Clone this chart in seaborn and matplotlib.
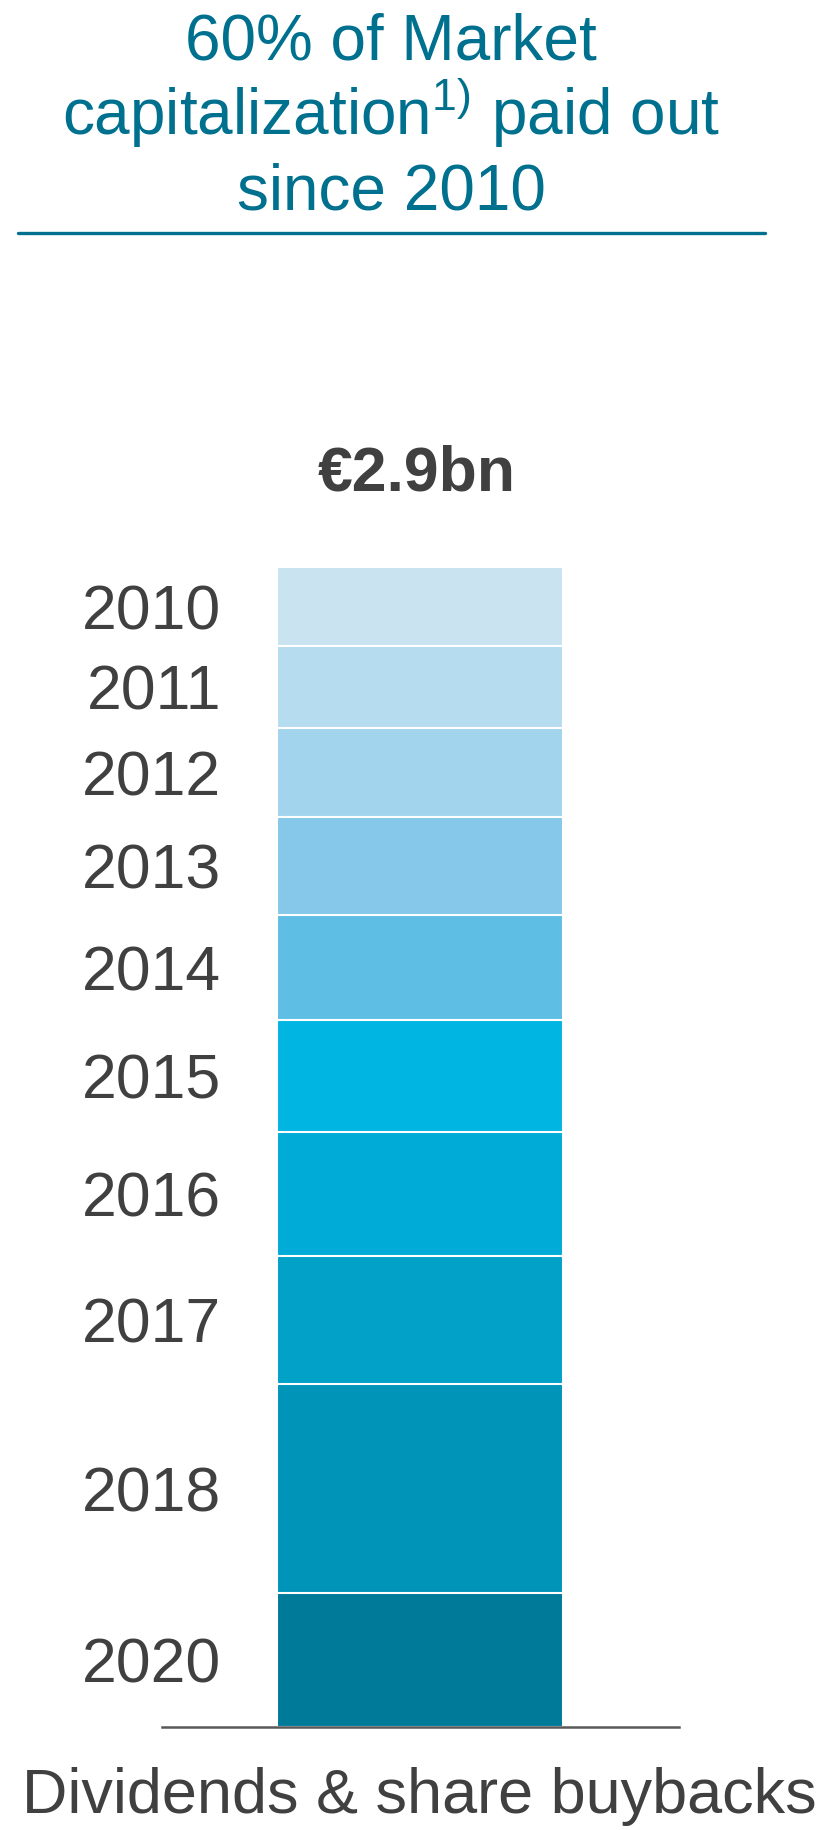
import matplotlib
matplotlib.use("Agg")
import matplotlib.pyplot as plt
import seaborn as sns
import numpy as np
import pandas as pd

# ---------------- data ----------------
years = ["2010", "2011", "2012", "2013", "2014", "2015", "2016", "2017", "2018", "2020"]
payouts_eur_m = [198, 204, 223, 245, 262, 281, 309, 322, 521, 335]
seg_colors = ["#C9E3F1", "#B6DCEF", "#A3D4EE", "#86C8E9", "#5EBEE4",
              "#00B5E2", "#00ACD7", "#02A1C8", "#0094B9", "#007A99"]
category = "Dividends & share buybacks"
total_label = "€2.9bn"
title_lines = ["60% of Market", "capitalization$^{1)}$ paid out", "since 2010"]

# ---------------- style ----------------
sns.set_style("white")
plt.rcParams["font.family"] = ["Liberation Sans", "DejaVu Sans"]
plt.rcParams["mathtext.fontset"] = "custom"
plt.rcParams["mathtext.rm"] = "Liberation Sans"
plt.rcParams["mathtext.it"] = "Liberation Sans:italic"
plt.rcParams["mathtext.bf"] = "Liberation Sans:bold"

TEAL = "#00708F"
GREY = "#404040"
FS = 46

W, H, DPI = 820, 1830, 100
fig = plt.figure(figsize=(W / DPI, H / DPI), dpi=DPI)

# axes placement (pixels from top-left)
ax_left, ax_right = 161.7, 679.0
ax_top, ax_bottom = 566.7, 1726.7
ax = fig.add_axes([ax_left / W, 1 - ax_bottom / H,
                   (ax_right - ax_left) / W, (ax_bottom - ax_top) / H])

# stacked bar: 2020 at bottom, 2010 at top -> cumulative from the bottom
vals = np.array(payouts_eur_m, dtype=float)
cum_from_bottom = np.cumsum(vals[::-1])[::-1]  # cum value at top of each segment
total = cum_from_bottom[0]

df = pd.DataFrame({"group": [category] * len(years), "year": years,
                   "top": cum_from_bottom, "value": vals})

# draw from tallest (2010) to shortest (2020) so each overlays the previous
for i in range(len(years)):
    sub = df.iloc[[i]]
    sns.barplot(data=sub, x="group", y="top", color=seg_colors[i],
                saturation=1, edgecolor="white", linewidth=1.5,
                width=0.8, ax=ax, errorbar=None)

ax.set_ylim(0, total)
half = (ax_right - ax_left) / (563.4 - 277.7) * 0.8 / 2
ax.set_xlim(-half, half)
ax.set_xticks([])
ax.set_yticks([])
ax.set_xlabel("")
ax.set_ylabel("")
for s in ["left", "right", "top"]:
    ax.spines[s].set_visible(False)
ax.spines["bottom"].set_color("#595959")
ax.spines["bottom"].set_linewidth(1.8)
ax.spines["bottom"].set_zorder(5)

# year labels, centred on each segment
for i, yr in enumerate(years):
    centre = df["top"].iloc[i] - df["value"].iloc[i] / 2
    ax.annotate(yr, xy=(-0.4, centre), xytext=(-40.5, -16.6),
                textcoords="offset points", ha="right", va="baseline",
                fontsize=FS - 1, color=GREY, annotation_clip=False)

# total label
ax.annotate(total_label, xy=(0, total), xytext=(-3, 55),
            textcoords="offset points", ha="center", va="baseline",
            fontsize=FS - 1, fontweight="bold", color=GREY,
            annotation_clip=False)

# category label below axis
ax.annotate(category, xy=(0, 0), xytext=(-1, -62.1),
            textcoords="offset points", ha="center", va="baseline",
            fontsize=FS - 0.6, color=GREY, annotation_clip=False)

# title
title_x = 391 / W
baselines = [60.0, 135.0, 210.0]
for line, b in zip(title_lines, baselines):
    fig.text(title_x, 1 - b / H, line, ha="center", va="baseline",
             fontsize=FS, color=TEAL)

# rule under title
fig.add_artist(plt.Line2D([17.5 / W, 765 / W], [1 - 233 / H, 1 - 233 / H],
                          color=TEAL, linewidth=2.4, transform=fig.transFigure))

fig.savefig("out.png", dpi=DPI, facecolor="white")
